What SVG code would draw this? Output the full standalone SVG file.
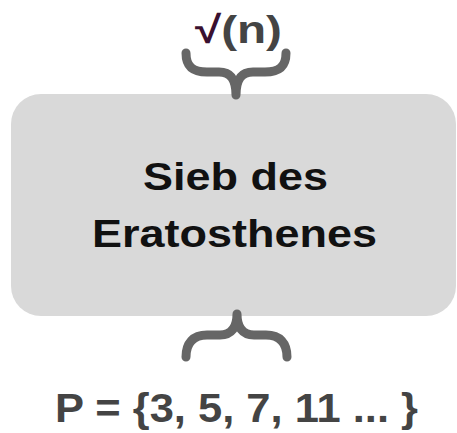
<svg xmlns="http://www.w3.org/2000/svg" width="457" height="433" viewBox="0 0 457 433">
<style>
.brace{fill:none;stroke:#666;stroke-width:9;stroke-linecap:round;stroke-linejoin:round}
.t{font-family:"Liberation Sans",Arial,sans-serif;font-weight:bold}
</style>
<g id="box">
<rect x="11" y="94" width="445" height="222" rx="30" fill="#d9d9d9"/>
<text class="t" x="143" y="190" font-size="38" fill="#111" textLength="185" lengthAdjust="spacingAndGlyphs">Sieb des</text>
<text class="t" x="92" y="247" font-size="38" fill="#111" textLength="285" lengthAdjust="spacingAndGlyphs">Eratosthenes</text>
</g>
<g id="top">
<text class="t" x="195" y="43" font-size="38" fill="#444" textLength="87" lengthAdjust="spacingAndGlyphs"><tspan fill="#3a1030">√</tspan>(n)</text>
</g>
<g id="bottom">
<text class="t" x="55" y="422" font-size="41" fill="#444" textLength="363" lengthAdjust="spacingAndGlyphs">P = {3, 5, 7, 11 ... }</text>
</g>
<g id="connectors">
<path class="brace" d="M186 53 C186 67 193 72 207 72 L219 72 C231 72 236 80 236 95 C236 80 241 72 253 72 L265 72 C279 72 286 67 286 53"/>
<path class="brace" d="M186 357 C186 343 193 335 207 335 L220 335 C232 335 237 327 237 314 C237 327 242 335 254 335 L266 335 C280 335 287 343 287 357"/>
</g>
</svg>
